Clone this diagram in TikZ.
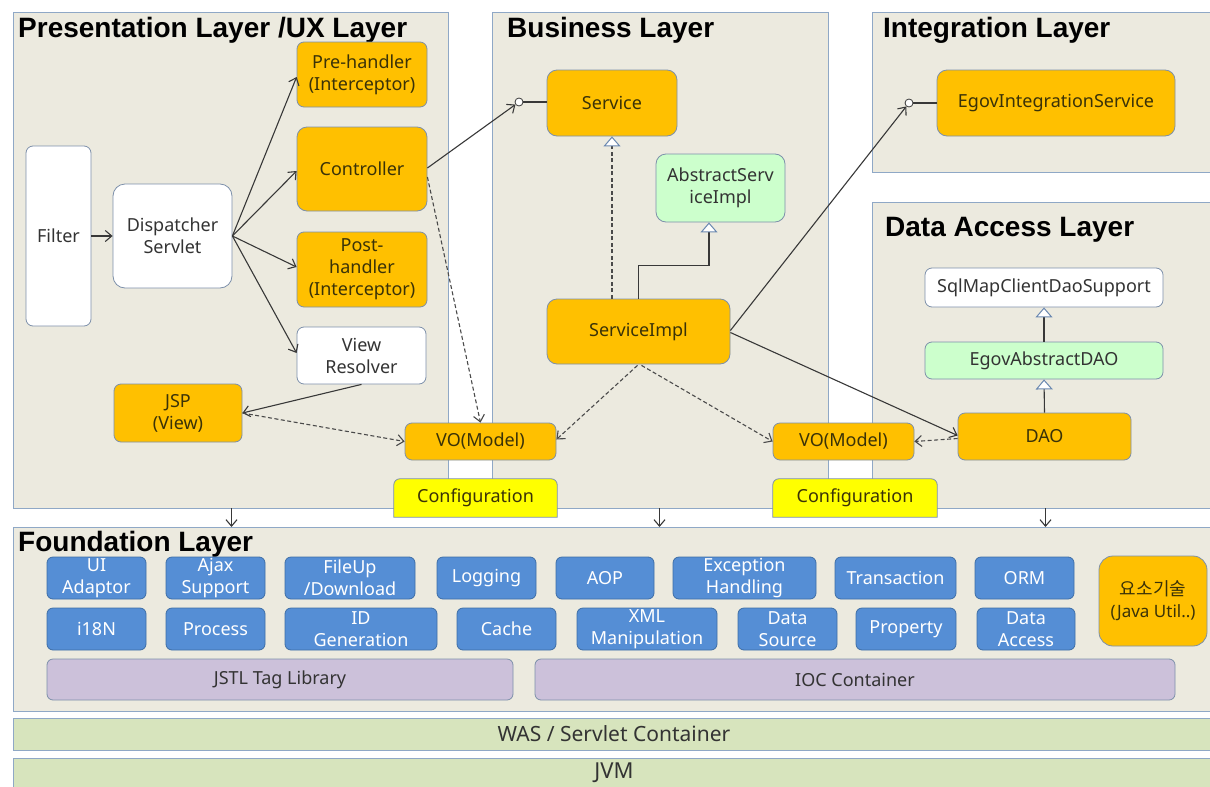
\documentclass[tikz,border=0pt]{standalone}
\usepackage{fontspec}
\setmainfont{Noto Sans}
\newfontfamily\krfont{Noto Sans CJK KR}
\newfontfamily\ttlfam{Liberation Sans}
\usetikzlibrary{arrows.meta,calc}
\pgfdeclarelayer{back}
\pgfsetlayers{back,main}
\definecolor{framefill}{HTML}{ECEADF}
\definecolor{frameline}{HTML}{8FA8C6}
\definecolor{boxline}{HTML}{7D90AA}
\definecolor{orangebox}{HTML}{FFC000}
\definecolor{greenbox}{HTML}{CCFFCC}
\definecolor{bluebox}{HTML}{558ED5}
\definecolor{blueline}{HTML}{3E6EA6}
\definecolor{purplebox}{HTML}{CCC1DA}
\definecolor{basebox}{HTML}{D7E4BD}
\definecolor{yellowbox}{HTML}{FFFF00}
\definecolor{txtdark}{HTML}{333333}
\definecolor{txtorange}{HTML}{3A3208}
\definecolor{linecol}{HTML}{383838}
\definecolor{dashcol}{HTML}{4A4A4A}
\definecolor{tricol}{HTML}{6A88B0}
\newcommand\bxf{\fontsize{18}{22}\selectfont}
\newcommand\ttlf{\ttlfam\fontsize{28}{32}\selectfont\bfseries}
\begin{document}
\begin{tikzpicture}[x=1pt,y=-1pt,
  layer/.style={draw=frameline, fill=framefill, line width=1pt, anchor=north west, inner sep=0pt},
  basebar/.style={draw=frameline, fill=basebox, line width=1pt, inner sep=0pt, font=\fontsize{21}{24}\selectfont, text=txtdark},
  ttl/.style={anchor=base west, inner sep=0pt, font=\ttlf, text=black},
  box/.style={draw=boxline, line width=0.8pt, rounded corners=7pt, inner sep=0pt, align=center, font=\bxf, text=txtdark},
  obox/.style={box, fill=orangebox, text=txtorange},
  wbox/.style={box, fill=white},
  gbox/.style={box, fill=greenbox},
  bbox/.style={box, draw=blueline, fill=bluebox, text=white, rounded corners=6pt},
  pbox/.style={box, fill=purplebox, rounded corners=6pt},
  cfgbox/.style={inner sep=0pt, font=\bxf, text=txtorange},
  cfgshape/.style={draw=boxline, line width=0.8pt, fill=yellowbox},
  lolli/.style={circle, draw=linecol, fill=white, line width=0.8pt, minimum size=8pt, inner sep=0pt},
  conn/.style={draw=linecol, line width=1.1pt},
  arr/.style={conn, -{Straight Barb[length=6.5pt,width=11pt]}},
  dsh/.style={draw=dashcol, dash pattern=on 4pt off 2.5pt},
  tri/.style={conn, -{Triangle[length=10pt,width=17pt,color=tricol,fill=white,line width=1pt]}}
]
\useasboundingbox (0,0) rectangle (1210,787);

% ---------- background and layer frames ----------
\begin{pgfonlayer}{back}
\fill[white] (0,0) rectangle (1210,787);
\node[layer, minimum width=435, minimum height=496] (pres) at (13,12) {};
\node[layer, minimum width=336, minimum height=496] (bus) at (492,12) {};
\node[layer, minimum width=343, minimum height=160] (integ) at (872,12) {};
\node[layer, minimum width=343, minimum height=306] (data) at (872,202) {};
\node[layer, minimum width=1202, minimum height=184] (found) at (13,527) {};
\end{pgfonlayer}
\node[basebar, minimum width=1202, minimum height=32] (was) at (614,734) {WAS / Servlet Container};
\node[basebar, minimum width=1202, minimum height=30, font=\fontsize{22}{24}\selectfont] (jvm) at (614,773) {JVM};

% ---------- titles ----------
\node[ttl] (tpres) at (18,37) {Presentation Layer /UX Layer};
\node[ttl] (tbus) at (507,37) {Business Layer};
\node[ttl] (tinteg) at (883,37) {Integration Layer};
\node[ttl] (tdata) at (885,236) {Data Access Layer};
\node[ttl] (tfound) at (18,551) {Foundation Layer};

% ---------- presentation layer ----------
\node[wbox, minimum width=65, minimum height=180] (filter) at (58.5,236) {Filter};
\node[wbox, minimum width=119, minimum height=104, rounded corners=12pt] (disp) at (172.5,236) {Dispatcher\\Servlet};
\node[obox, minimum width=130, minimum height=65] (pre) at (362,74.5) {Pre-handler\\(Interceptor)};
\node[obox, minimum width=130, minimum height=84, rounded corners=10pt] (ctrl) at (362,169) {Controller};
\node[obox, minimum width=130, minimum height=75] (post) at (362,269.5) {Post-\\handler\\(Interceptor)};
\node[wbox, minimum width=129, minimum height=57] (vres) at (361.5,355.5) {View\\Resolver};
\node[obox, minimum width=128, minimum height=58] (jsp) at (178,413) {JSP\\(View)};
\node[obox, minimum width=151, minimum height=37] (vo1) at (480.5,441.5) {VO(Model)};
\node[cfgbox, minimum width=163, minimum height=38] (cfg1) at (475.5,498) {Configuration};

% ---------- business layer ----------
\node[obox, minimum width=130, minimum height=66, rounded corners=10pt] (service) at (612,103) {Service};
\node[gbox, minimum width=129, minimum height=68, rounded corners=10pt] (asi) at (720.5,188) {AbstractServ\\iceImpl};
\node[obox, minimum width=183, minimum height=65, rounded corners=10pt] (simpl) at (638.5,331.5) {ServiceImpl};
\node[obox, minimum width=141, minimum height=37] (vo2) at (843.5,441.5) {VO(Model)};
\node[cfgbox, minimum width=164, minimum height=38] (cfg2) at (855,498) {Configuration};

% ---------- integration / data access ----------
\node[obox, minimum width=238, minimum height=66, rounded corners=10pt] (egis) at (1056,103) {EgovIntegrationService};
\node[wbox, minimum width=238, minimum height=39] (sqlmap) at (1044,287.5) {SqlMapClientDaoSupport};
\node[gbox, minimum width=238, minimum height=37] (ead) at (1044,360.5) {EgovAbstractDAO};
\node[obox, minimum width=173, minimum height=47] (dao) at (1044.5,436.5) {DAO};

% configuration shapes (behind their text, above the frames)
\begin{pgfonlayer}{back}
\draw[cfgshape] (cfg1.south west) [rounded corners=6pt] -- (cfg1.north west) -- (cfg1.north east) [sharp corners] -- (cfg1.south east) -- cycle;
\draw[cfgshape] (cfg2.south west) [rounded corners=6pt] -- (cfg2.north west) -- (cfg2.north east) [sharp corners] -- (cfg2.south east) -- cycle;
\end{pgfonlayer}

% ---------- foundation layer ----------
\node[bbox, minimum width=99, minimum height=42] (uia) at (96.5,578) {UI\\Adaptor};
\node[bbox, minimum width=99, minimum height=42] (ajax) at (215.5,578) {Ajax\\Support};
\node[bbox, minimum width=130, minimum height=42] (file) at (350,578) {FileUp\\/Download};
\node[bbox, minimum width=99, minimum height=42] (logg) at (486.5,578) {Logging};
\node[bbox, minimum width=98, minimum height=42] (aop) at (605,578) {AOP};
\node[bbox, minimum width=143, minimum height=42] (exc) at (744.5,578) {Exception\\Handling};
\node[bbox, minimum width=121, minimum height=42] (trans) at (895.5,578) {Transaction};
\node[bbox, minimum width=99, minimum height=42] (orm) at (1024.5,578) {ORM};
\node[bbox, minimum width=99, minimum height=42] (i18n) at (96.5,629) {i18N};
\node[bbox, minimum width=99, minimum height=42] (proc) at (215.5,629) {Process};
\node[bbox, minimum width=152, minimum height=42] (idg) at (361,629) {ID\\Generation};
\node[bbox, minimum width=99, minimum height=42] (cache) at (506.5,629) {Cache};
\node[bbox, minimum width=140, minimum height=42] (xml) at (647,629) {XML\\Manipulation};
\node[bbox, minimum width=99, minimum height=42] (dsrc) at (787.5,629) {Data\\Source};
\node[bbox, minimum width=100, minimum height=42] (prop) at (906,629) {Property};
\node[bbox, minimum width=98, minimum height=42] (dacc) at (1026,629) {Data\\Access};
\node[pbox, minimum width=466, minimum height=41] (jstl) at (280,679.5) {JSTL Tag Library};
\node[pbox, minimum width=640, minimum height=41] (ioc) at (855,679.5) {IOC Container};
\node[obox, minimum width=108, minimum height=90, rounded corners=14pt] (util) at (1153,601) {{\krfont\fontsize{18}{22}\selectfont 요소기술}\\{\fontsize{17}{20}\selectfont (Java Util..)}};

% ---------- connectors ----------
\draw[arr] (filter.east) -- (disp.west);
\draw[arr] (disp.east) -- ($(pre.west)+(0,2.5)$);
\draw[arr] (disp.east) -- ($(ctrl.west)+(0,2)$);
\draw[arr] (disp.east) -- ($(post.west)+(0,-2.5)$);
\draw[arr] (disp.east) -- ($(vres.west)+(0,-2.5)$);
\draw[arr] (vres.south) -- (jsp.east);
\draw[arr,dsh] (jsp.east) -- (vo1.west);

\node[lolli] (lp1) at (519,102) {};
\draw[conn] (lp1.east) -- (lp1.east -| service.west);
\draw[arr] ($(ctrl.east)+(0,-1)$) -- (lp1);
\draw[arr,dsh] ($(ctrl.east)+(0,8)$) -- (vo1.north);

\draw[tri,dsh] (service.south |- simpl.north) -- (service.south);
\draw[tri] (simpl.north) |- ($(asi.south)+(-11.5,43)$) -- ($(asi.south)+(-11.5,0)$);
\draw[arr,dsh] ($(simpl.south)+(-1,1)$) -- ($(vo1.east)+(0,-2)$);
\draw[arr,dsh] ($(simpl.south)+(3,1)$) -- (vo2.west);

\node[lolli] (lp2) at (909,103) {};
\draw[conn] (lp2.east) -- (lp2.east -| egis.west);
\draw[arr] ($(simpl.east)+(0,-1)$) -- (lp2);
\draw[arr] ($(simpl.east)+(0,1)$) -- ($(dao.west)+(0,-1)$);
\draw[arr,dsh] ($(dao.west)+(0,2)$) -- (vo2.east);

\draw[tri] (ead.north) -- (sqlmap.south);
\draw[tri] (dao.north) -- (ead.south);

\coordinate (d1) at (231.5,508);
\coordinate (d2) at (659.5,508);
\coordinate (d3) at (1045.5,508);
\draw[arr] (d1) -- (d1 |- found.north);
\draw[arr] (d2) -- (d2 |- found.north);
\draw[arr] (d3) -- (d3 |- found.north);
\end{tikzpicture}
\end{document}
